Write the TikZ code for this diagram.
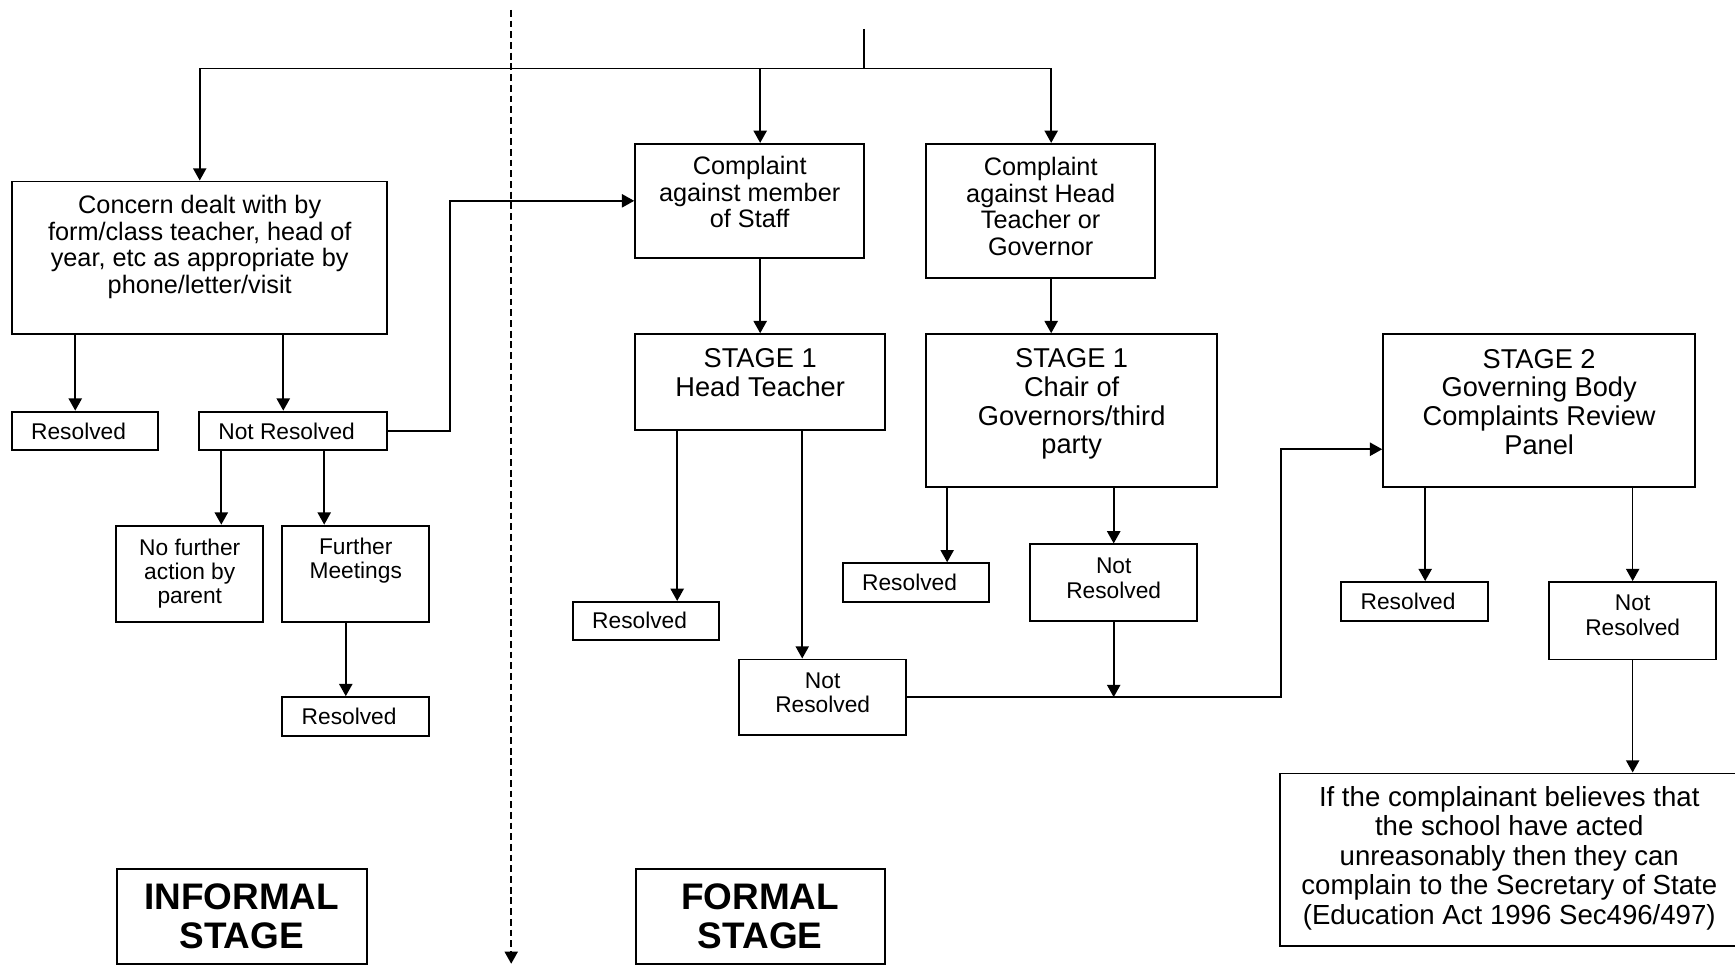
\documentclass[tikz,border=0pt]{standalone}
\usepackage{fontspec}
\setmainfont{Liberation Sans}
\usetikzlibrary{arrows.meta}

\begin{document}
\begin{tikzpicture}[x=0.02cm, y=-0.02cm,
          box/.style={draw, line width=1pt, align=center, inner sep=0pt, font=\fontsize{13}{13.7}\selectfont},
          stagebox/.style={box, font=\fontsize{14}{14.8}\selectfont},
          smallbox/.style={box, font=\fontsize{11.7}{12.5}\selectfont},
          phasebox/.style={box, font=\fontsize{19}{19.9}\selectfont\bfseries},
          arr/.style={line width=0.85pt, -{Triangle[length=6.3pt, width=6.8pt]}}]

          \useasboundingbox (0,0) rectangle (1568,873);

          \node[box, minimum width=6.78cm, minimum height=2.76cm] (concern) at (180.5,233) {Concern dealt with by\\form/class teacher, head of\\year, etc as appropriate by\\phone/letter/visit\\[0pt]};
          \node[box, minimum width=4.14cm, minimum height=2.06cm] (staff) at (677.5,181.5) {Complaint\\against member\\of Staff\\[-4.6pt]};
          \node[box, minimum width=4.14cm, minimum height=2.42cm] (htgov) at (940.5,190.5) {Complaint\\against Head\\Teacher or\\Governor\\[-9.1pt]};

          \node[stagebox, minimum width=4.52cm, minimum height=1.74cm] (ht1) at (687,345.5) {STAGE 1\\Head Teacher\\[-4.6pt]};
          \node[stagebox, minimum width=5.26cm, minimum height=2.76cm] (chair1) at (968.5,371) {STAGE 1\\Chair of\\Governors/third\\party\\[-5.2pt]};
          \node[stagebox, minimum width=5.64cm, minimum height=2.76cm] (panel2) at (1391,371) {STAGE 2\\Governing Body\\Complaints Review\\Panel\\[-5.7pt]};

          \node[smallbox, minimum width=2.64cm, minimum height=0.70cm] (res1) at (77,389.5) {Resolved\hspace{6.8pt}};
          \node[smallbox, minimum width=3.40cm, minimum height=0.70cm] (notres1) at (265,389.5) {Not Resolved\hspace{6.8pt}};
          \node[smallbox, minimum width=2.66cm, minimum height=1.74cm] (nofurther) at (171.5,518.5) {No further\\action by\\parent};
          \node[smallbox, minimum width=2.66cm, minimum height=1.74cm] (further) at (321.5,518.5) {Further\\Meetings\\\strut};
          \node[smallbox, minimum width=2.66cm, minimum height=0.70cm] (res2) at (321.5,647.5) {Resolved\hspace{6.8pt}};

          \node[smallbox, minimum width=2.64cm, minimum height=0.68cm] (res3) at (584,561) {Resolved\hspace{6.8pt}};
          \node[smallbox, minimum width=3.02cm, minimum height=1.36cm] (notres3) at (743.5,630) {Not\\Resolved\\[-7.9pt]};
          \node[smallbox, minimum width=2.64cm, minimum height=0.70cm] (res4) at (828,526.5) {Resolved\hspace{6.8pt}};
          \node[smallbox, minimum width=3.02cm, minimum height=1.38cm] (notres4) at (1006.5,526.5) {Not\\Resolved\\[-7.9pt]};
          \node[smallbox, minimum width=2.66cm, minimum height=0.70cm] (res5) at (1278.5,543.5) {Resolved\hspace{6.8pt}};
          \node[smallbox, minimum width=3.02cm, minimum height=1.40cm] (notres5) at (1475.5,561) {Not\\Resolved\\[-6.8pt]};

          \node[stagebox, font=\fontsize{14.2}{15.1}\selectfont, minimum width=8.28cm, minimum height=3.12cm] (appeal) at (1364,777) {If the complainant believes that\\the school have acted\\unreasonably then they can\\complain to the Secretary of State\\(Education Act 1996 Sec496/497)\\[-10.5pt]};

          \node[phasebox, minimum width=4.52cm, minimum height=1.72cm] (informal) at (218.5,828) {INFORMAL\\STAGE};
          \node[phasebox, minimum width=4.50cm, minimum height=1.72cm] (formal) at (687,828) {FORMAL\\STAGE};

          \coordinate (entry) at (781,26);
          \coordinate (split) at (781,62);
          \coordinate (divtop) at (462,9);
          \coordinate (divbot) at (462,871);

          \draw[line width=0.85pt] (entry) -- (split);
          \draw[arr] (split) -| (concern);
          \draw[arr] (split) -| (ht1.north |- staff.north);
          \draw[arr] (split) -| ([xshift=0.19cm]htgov.north);

          \draw[arr] (ht1.north |- staff.south) -- (ht1.north);
          \draw[arr] ([xshift=0.19cm]htgov.south) -- ([xshift=0.19cm]htgov.south |- chair1.north);

          \draw[arr] ([xshift=-0.18cm]res1.north |- concern.south) -- ([xshift=-0.18cm]res1.north);
          \draw[arr] ([xshift=-0.18cm]notres1.north |- concern.south) -- ([xshift=-0.18cm]notres1.north);
          \draw[arr] (notres1.east) -- ++(56,0) |- (staff.west);
          \draw[arr] ([xshift=0.57cm]nofurther.north |- notres1.south) -- ([xshift=0.57cm]nofurther.north);
          \draw[arr] ([xshift=-0.57cm]further.north |- notres1.south) -- ([xshift=-0.57cm]further.north);
          \draw[arr] ([xshift=-0.18cm]further.south) -- ([xshift=-0.18cm]res2.north);

          \draw[arr] ([xshift=0.56cm]res3.north |- ht1.south) -- ([xshift=0.56cm]res3.north);
          \draw[arr] ([xshift=-0.37cm]notres3.north |- ht1.south) -- ([xshift=-0.37cm]notres3.north);
          \draw[arr] ([xshift=0.56cm]res4.north |- chair1.south) -- ([xshift=0.56cm]res4.north);
          \draw[arr] (notres4.north |- chair1.south) -- (notres4.north);

          \draw[arr] (notres3.east) -- ++(338,0) |- ([yshift=-0.7cm]panel2.west);
          \draw[arr] (notres4.south) -- (notres4.south |- notres3.east);

          \draw[arr] ([xshift=0.19cm]res5.north |- panel2.south) -- ([xshift=0.19cm]res5.north);
          \draw[arr] (notres5.north |- panel2.south) -- (notres5.north);
          \draw[arr] (notres5.south) -- (notres5.south |- appeal.north);

          \draw[arr, dash pattern=on 3.5pt off 2pt] (divtop) -- (divbot);
\end{tikzpicture}
\end{document}
